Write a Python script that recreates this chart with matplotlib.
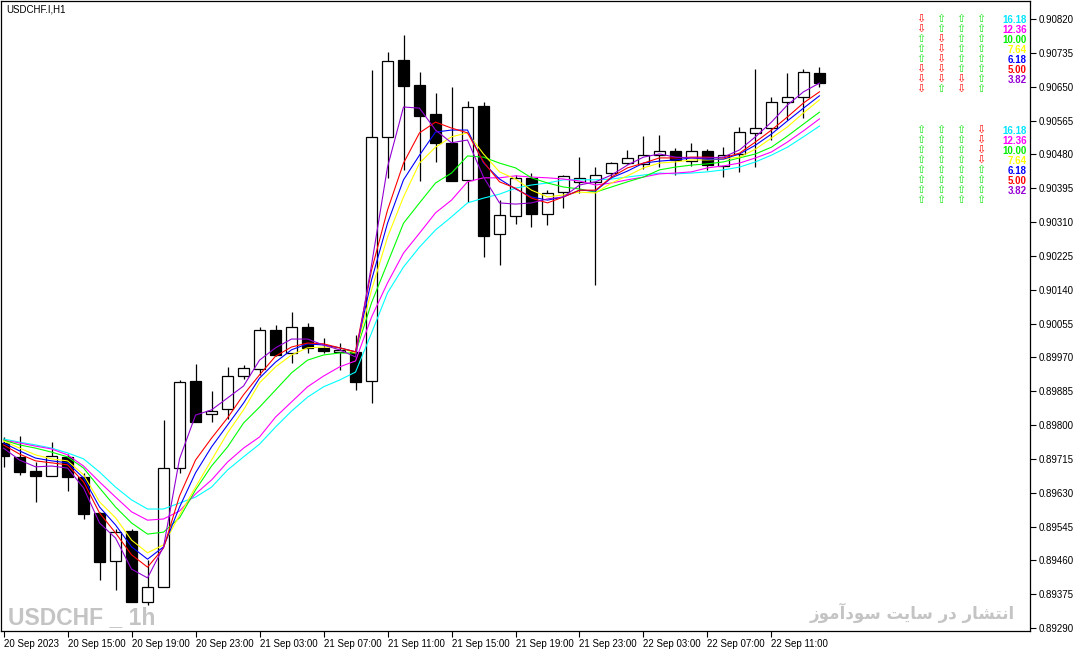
import matplotlib
matplotlib.use("Agg")
import matplotlib.pyplot as plt

# USDCHF.I H1 candles, 20 Sep 2023 11:00 .. 22 Sep 2023 14:00
opens = [0.89755, 0.89720, 0.89685, 0.89672, 0.89720, 0.89670, 0.89579, 0.89459, 0.89534, 0.89356,
         0.89393, 0.89692, 0.89911, 0.89828, 0.89840, 0.89923, 0.89941, 0.90039, 0.89981, 0.90046,
         0.89994, 0.89984, 0.89984, 0.89911, 0.90524, 0.90717, 0.90654, 0.90581, 0.90509, 0.90416,
         0.90601, 0.90280, 0.90325, 0.90421, 0.90330, 0.90385, 0.90411, 0.90411, 0.90433, 0.90458,
         0.90456, 0.90478, 0.90488, 0.90463, 0.90488, 0.90451, 0.90481, 0.90534, 0.90546, 0.90612,
         0.90624, 0.90684]
highs = [0.89770, 0.89772, 0.89707, 0.89757, 0.89727, 0.89680, 0.89582, 0.89539, 0.89539, 0.89461,
         0.89813, 0.89913, 0.89953, 0.89886, 0.89946, 0.89951, 0.90046, 0.90051, 0.90084, 0.90056,
         0.90019, 0.90006, 0.90026, 0.90692, 0.90737, 0.90780, 0.90687, 0.90634, 0.90649, 0.90614,
         0.90612, 0.90365, 0.90428, 0.90433, 0.90390, 0.90428, 0.90473, 0.90448, 0.90461, 0.90491,
         0.90526, 0.90529, 0.90496, 0.90509, 0.90493, 0.90498, 0.90549, 0.90694, 0.90624, 0.90684,
         0.90694, 0.90699]
lows = [0.89695, 0.89675, 0.89607, 0.89672, 0.89634, 0.89564, 0.89411, 0.89386, 0.89356, 0.89348,
        0.89393, 0.89680, 0.89808, 0.89808, 0.89815, 0.89916, 0.89926, 0.89974, 0.89956, 0.89981,
        0.89981, 0.89938, 0.89888, 0.89855, 0.90421, 0.90441, 0.90413, 0.90461, 0.90413, 0.90360,
        0.90222, 0.90202, 0.90305, 0.90298, 0.90303, 0.90345, 0.90383, 0.90152, 0.90421, 0.90456,
        0.90443, 0.90448, 0.90428, 0.90451, 0.90441, 0.90423, 0.90436, 0.90448, 0.90516, 0.90566,
        0.90571, 0.90649]
closes = [0.89722, 0.89682, 0.89672, 0.89722, 0.89670, 0.89577, 0.89456, 0.89531, 0.89356, 0.89393,
          0.89692, 0.89908, 0.89808, 0.89835, 0.89923, 0.89943, 0.90039, 0.89976, 0.90046, 0.89994,
          0.89986, 0.89989, 0.89908, 0.90524, 0.90714, 0.90652, 0.90576, 0.90509, 0.90413, 0.90599,
          0.90275, 0.90328, 0.90421, 0.90330, 0.90383, 0.90426, 0.90421, 0.90428, 0.90458, 0.90471,
          0.90478, 0.90488, 0.90466, 0.90488, 0.90453, 0.90478, 0.90536, 0.90546, 0.90612, 0.90624,
          0.90687, 0.90659]

# moving average lines
ma_16_18 = [0.89765, 0.89757, 0.89750, 0.89742, 0.89730, 0.89715, 0.89682, 0.89644, 0.89612, 0.89589,
            0.89589, 0.89604, 0.89619, 0.89644, 0.89687, 0.89720, 0.89752, 0.89795, 0.89835, 0.89870,
            0.89896, 0.89913, 0.89933, 0.90031, 0.90132, 0.90197, 0.90247, 0.90290, 0.90323, 0.90358,
            0.90370, 0.90380, 0.90395, 0.90403, 0.90408, 0.90416, 0.90416, 0.90416, 0.90418, 0.90423,
            0.90428, 0.90433, 0.90431, 0.90433, 0.90436, 0.90441, 0.90448, 0.90461, 0.90478, 0.90498,
            0.90524, 0.90551]
ma_12_36 = [0.89762, 0.89755, 0.89747, 0.89740, 0.89725, 0.89697, 0.89657, 0.89619, 0.89582, 0.89561,
            0.89564, 0.89584, 0.89627, 0.89662, 0.89707, 0.89742, 0.89770, 0.89820, 0.89858, 0.89896,
            0.89923, 0.89946, 0.89961, 0.90071, 0.90157, 0.90232, 0.90282, 0.90333, 0.90365, 0.90411,
            0.90421, 0.90421, 0.90426, 0.90423, 0.90421, 0.90418, 0.90413, 0.90403, 0.90408, 0.90416,
            0.90423, 0.90431, 0.90433, 0.90436, 0.90446, 0.90451, 0.90458, 0.90471, 0.90486, 0.90511,
            0.90539, 0.90569]
ma_10_00 = [0.89762, 0.89750, 0.89742, 0.89732, 0.89720, 0.89692, 0.89642, 0.89594, 0.89554, 0.89526,
            0.89531, 0.89567, 0.89637, 0.89697, 0.89745, 0.89805, 0.89845, 0.89888, 0.89931, 0.89963,
            0.89976, 0.89981, 0.89981, 0.90107, 0.90207, 0.90307, 0.90358, 0.90408, 0.90433, 0.90476,
            0.90473, 0.90458, 0.90446, 0.90421, 0.90408, 0.90398, 0.90393, 0.90385, 0.90398, 0.90411,
            0.90423, 0.90441, 0.90448, 0.90453, 0.90456, 0.90461, 0.90471, 0.90481, 0.90498, 0.90526,
            0.90556, 0.90586]
ma_7_64 = [0.89760, 0.89742, 0.89725, 0.89715, 0.89710, 0.89675, 0.89607, 0.89567, 0.89511, 0.89479,
           0.89499, 0.89574, 0.89644, 0.89712, 0.89780, 0.89838, 0.89906, 0.89946, 0.89976, 0.89994,
           0.89996, 0.89994, 0.89981, 0.90139, 0.90272, 0.90373, 0.90458, 0.90498, 0.90524, 0.90534,
           0.90481, 0.90436, 0.90418, 0.90390, 0.90373, 0.90378, 0.90385, 0.90383, 0.90408, 0.90426,
           0.90446, 0.90458, 0.90461, 0.90466, 0.90466, 0.90468, 0.90473, 0.90493, 0.90521, 0.90549,
           0.90584, 0.90617]
ma_6_18 = [0.89755, 0.89735, 0.89717, 0.89710, 0.89705, 0.89667, 0.89594, 0.89549, 0.89494, 0.89463,
           0.89494, 0.89594, 0.89680, 0.89745, 0.89800, 0.89855, 0.89918, 0.89958, 0.89989, 0.90004,
           0.90001, 0.89994, 0.89984, 0.90164, 0.90307, 0.90416, 0.90478, 0.90536, 0.90541, 0.90541,
           0.90458, 0.90418, 0.90393, 0.90373, 0.90365, 0.90373, 0.90390, 0.90388, 0.90421, 0.90438,
           0.90458, 0.90463, 0.90466, 0.90471, 0.90468, 0.90468, 0.90481, 0.90503, 0.90531, 0.90564,
           0.90596, 0.90627]
ma_5_00 = [0.89750, 0.89727, 0.89710, 0.89705, 0.89700, 0.89657, 0.89579, 0.89529, 0.89474, 0.89443,
           0.89491, 0.89622, 0.89712, 0.89767, 0.89818, 0.89876, 0.89926, 0.89973, 0.89996, 0.90006,
           0.90004, 0.89994, 0.89984, 0.90189, 0.90340, 0.90458, 0.90534, 0.90561, 0.90546, 0.90534,
           0.90461, 0.90411, 0.90395, 0.90370, 0.90358, 0.90373, 0.90390, 0.90390, 0.90423, 0.90446,
           0.90458, 0.90471, 0.90471, 0.90473, 0.90473, 0.90471, 0.90483, 0.90511, 0.90541, 0.90574,
           0.90609, 0.90637]
ma_3_82 = [0.89742, 0.89712, 0.89695, 0.89697, 0.89692, 0.89642, 0.89554, 0.89516, 0.89438, 0.89416,
           0.89494, 0.89715, 0.89825, 0.89838, 0.89868, 0.89898, 0.89963, 0.89994, 0.90016, 0.90016,
           0.90001, 0.89989, 0.89971, 0.90202, 0.90448, 0.90599, 0.90596, 0.90541, 0.90509, 0.90516,
           0.90423, 0.90358, 0.90355, 0.90358, 0.90368, 0.90373, 0.90403, 0.90411, 0.90428, 0.90453,
           0.90473, 0.90481, 0.90473, 0.90471, 0.90471, 0.90473, 0.90491, 0.90524, 0.90561, 0.90604,
           0.90637, 0.90659]

ma_lines = [ma_16_18, ma_12_36, ma_10_00, ma_7_64, ma_6_18, ma_5_00, ma_3_82]
ma_names = ["16.18", "12.36", "10.00", "7.64", "6.18", "5.00", "3.82"]
ma_colors = ["#00ffff", "#ff00ff", "#00ff00", "#ffff00", "#0000ff", "#ff0000", "#9400d3"]
label_colors = ["#00e5ff", "#ff00ff", "#00ee00", "#ffff00", "#0000ff", "#ff0000", "#9400d3"]

x_labels = ["20 Sep 2023", "20 Sep 15:00", "20 Sep 19:00", "20 Sep 23:00", "21 Sep 03:00",
            "21 Sep 07:00", "21 Sep 11:00", "21 Sep 15:00", "21 Sep 19:00", "21 Sep 23:00",
            "22 Sep 03:00", "22 Sep 07:00", "22 Sep 11:00"]
y_ticks = [0.90820, 0.90735, 0.90650, 0.90565, 0.90480, 0.90395, 0.90310, 0.90225, 0.90140,
           0.90055, 0.89970, 0.89885, 0.89800, 0.89715, 0.89630, 0.89545, 0.89460, 0.89375, 0.89290]

# signal grid: 1 = up arrow, 0 = down arrow (rows x 4 columns)
signals_top = [[0, 1, 1, 1], [0, 1, 1, 1], [1, 0, 1, 1], [1, 0, 1, 1],
               [1, 0, 1, 1], [0, 0, 1, 1], [0, 0, 0, 1], [0, 1, 0, 1]]
signals_bottom = [[1, 1, 1, 0], [1, 1, 1, 0], [1, 1, 1, 0], [1, 1, 1, 0],
                  [1, 1, 1, 1], [1, 1, 1, 1], [1, 1, 1, 1], [1, 1, 1, 1]]

W, H = 1076, 653
fig = plt.figure(figsize=(W / 100, H / 100), dpi=100)
ax = fig.add_axes([1 / W, 22 / H, 1029 / W, 630 / H])

xs = list(range(len(closes)))

# candles
for i in xs:
    o, h, l, c = opens[i], highs[i], lows[i], closes[i]
    ax.vlines(i, l, h, color="black", linewidth=0.9, zorder=2)
    bull = c >= o
    ax.bar(i, abs(c - o), bottom=min(o, c), width=0.68,
           color="white" if bull else "black", edgecolor="black",
           linewidth=0.9, zorder=3)

for vals, col in zip(ma_lines, ma_colors):
    ax.plot(xs, vals, color=col, linewidth=0.8, zorder=4)

ax.set_xlim(-0.16, 64.16)
ax.set_ylim(0.892826, 0.908652)

ax.yaxis.tick_right()
ax.set_yticks(y_ticks)
ax.set_yticklabels([f"{v:.5f}" for v in y_ticks])
ax.set_xticks(xs[::4])
ax.set_xticklabels(x_labels)
for lbl in ax.get_xticklabels():
    lbl.set_horizontalalignment("left")
ax.tick_params(axis="both", direction="out", length=4, width=0.8,
               labelsize=7, colors="black", pad=2)
for lbl in ax.get_xticklabels() + ax.get_yticklabels():
    lbl.set_family(["Liberation Sans", "DejaVu Sans"])
for sp in ax.spines.values():
    sp.set_linewidth(0.9)
    sp.set_color("black")

# chart title
fig.text(6 / W, 1 - 4 / H, "USDCHF.I,H1", fontsize=7, va="top", ha="left",
         family=["Liberation Sans", "DejaVu Sans"])

# signal panel (arrow glyphs + period labels)
col_px = [920.5, 940.5, 960.5, 980.5]
for block, top_px in ((signals_top, 19), (signals_bottom, 130)):
    for r, row in enumerate(block):
        for c, up in enumerate(row):
            fig.text(col_px[c] / W, 1 - (top_px + 10 * r) / H,
                     "\u21e7" if up else "\u21e9",
                     color="#22e622" if up else "#ff1010",
                     fontsize=8, ha="center", va="center",
                     family="DejaVu Sans")
    for r, (name, col) in enumerate(zip(ma_names, label_colors)):
        fig.text(1027 / W, 1 - (top_px + 1 + 10 * r) / H, name, color=col,
                 fontsize=7, weight="bold", ha="right", va="center",
                 family=["Liberation Sans", "DejaVu Sans"])

# watermarks
fig.text(8 / W, 1 - 624 / H, "USDCHF _ 1h", fontsize=16.5, weight="bold",
         color="#c4c4c4", ha="left", va="baseline",
         family=["Liberation Sans", "DejaVu Sans"])
# Persian text, pre-shaped (presentation forms, visual order)
persian = "\ufeaf\ufeee\ufee3\ufe81\ufea9\ufeee\ufeb3 \ufe96\ufbfe\ufe8e\ufeb3 \ufead\ufea9 \ufead\ufe8e\ufeb8\ufe98\ufee7\ufe8d"
fig.text(1015 / W, 1 - 619 / H, persian, fontsize=12, weight="bold",
         color="#c4c4c4", ha="right", va="baseline", family="DejaVu Sans")

fig.savefig("out.png", dpi=100)
